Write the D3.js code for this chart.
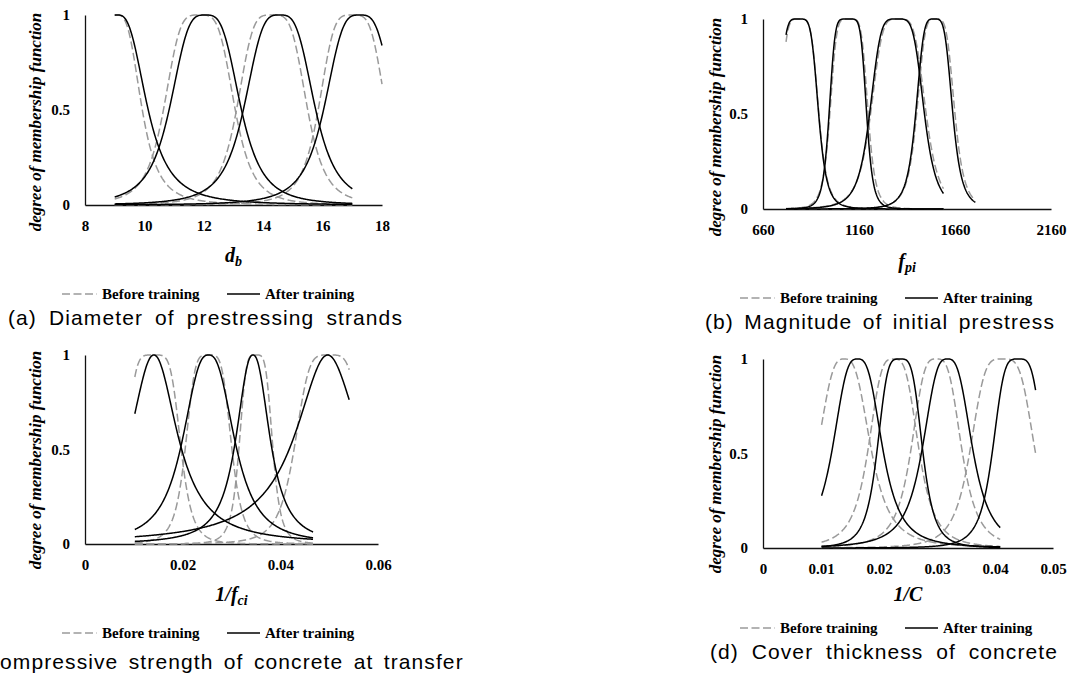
<!DOCTYPE html>
<html>
<head>
<meta charset="utf-8">
<script src="https://cdn.jsdelivr.net/npm/d3@7"></script>
<style>
	body { margin: 0; background: #fff; }
	svg { display: block; }
	.tick text { font-family: 'Liberation Serif', 'Times New Roman', serif; font-weight: bold; font-size: 15px; fill: #000; }
	.domain { stroke: #111; stroke-width: 1.3px; }
</style>
</head>
<body>
<div id="chart"></div>
<script>
// membership function parameters: [centre, half-width, slope]
const yTicks = [0, 0.5, 1];
const yTickLabels = ['0', '0.5', '1'];

// (a) diameter of prestressing strands
const aTicks = [8, 10, 12, 14, 16, 18];
const aTickLabels = ['8', '10', '12', '14', '16', '18'];
const aStart = 9;
const aEnd = [17, 17, 17, 18];
const aBefore = [[9.05, 0.88, 1.6], [11.85, 1.21, 2.0], [14.3, 1.2, 2.0], [17.0, 1.15, 2.0]];
const aAfter = [[9.1, 1.03, 1.4], [12.05, 1.22, 1.7], [14.55, 1.22, 1.7], [17.25, 1.22, 1.7]];

// (b) magnitude of initial prestress
const bTicks = [660, 1160, 1660, 2160];
const bTickLabels = ['660', '1160', '1660', '2160'];
const bStart = 780;
const bEnd = [1600, 1600, 1600, 1766];
const bBefore = [[848, 103, 2.4], [1108, 100, 2.7], [1365, 145, 2.2], [1560, 100, 2.1]];
const bAfter = [[845, 105, 2.5], [1102, 98, 3], [1358, 143, 2.3], [1552, 97, 2.1]];

// (c) compressive strength of concrete at transfer
const cTicks = [0, 0.02, 0.04, 0.06];
const cTickLabels = ['0', '0.02', '0.04', '0.06'];
const cStart = 0.0102;
const cEnd = [0.0467, 0.0467, 0.0467, 0.0541];
const cBefore = [[0.0140, 0.0057, 2.5], [0.0253, 0.0048, 2.2], [0.0350, 0.0035, 2.2], [0.0500, 0.0072, 2.2]];
const cAfter = [[0.0141, 0.0057, 1.05], [0.0253, 0.0058, 1.3], [0.0344, 0.0039, 1.17], [0.0497, 0.0079, 1.0]];

// (d) cover thickness of concrete
const dTicks = [0, 0.01, 0.02, 0.03, 0.04, 0.05];
const dTickLabels = ['0', '0.01', '0.02', '0.03', '0.04', '0.05'];
const dStart = 0.0101;
const dEnd = [0.0409, 0.0409, 0.0409, 0.047];
const dBefore = [[0.0140, 0.0048, 1.5], [0.0225, 0.0045, 1.7], [0.0299, 0.0045, 1.7], [0.0413, 0.0057, 2.0]];
const dAfter = [[0.0163, 0.0045, 1.5], [0.0236, 0.0040, 2.0], [0.0318, 0.0045, 1.5], [0.0440, 0.0045, 2.0]];

const serif = "'Liberation Serif', 'Times New Roman', serif";
const sans = "'Liberation Sans', Arial, sans-serif";

const svg = d3.select('#chart').append('svg').attr('width', 1072).attr('height', 675);

// generalised bell membership function
const gbell = (x, p) => 1 / (1 + Math.pow(Math.abs((x - p[0]) / p[1]), 2 * p[2]));

// capLen = width the caption is spread over; the (c) caption runs off the left edge,
// so it is placed by the start of "ompressive" instead
const panels = [
	{ ticks: aTicks, labels: aTickLabels, start: aStart, end: aEnd, before: aBefore, after: aAfter,
		x0: 85, x1: 382, top: 15, bottom: 205, yTitleX: 35, yTitleY: 122, xTitleY: 262, legendX: 62, legendY: 294,
		caption: '(a) Diameter of prestressing strands', capX: 8, capLen: 395, capY: 325,
		title: [['d', 20], ['b', 14]] },
	{ ticks: bTicks, labels: bTickLabels, start: bStart, end: bEnd, before: bBefore, after: bAfter,
		x0: 763, x1: 1051, top: 19, bottom: 209, yTitleX: 715, yTitleY: 127, xTitleY: 268, legendX: 740, legendY: 298,
		caption: '(b) Magnitude of initial prestress', capX: 705, capLen: 350, capY: 329,
		title: [['f', 20], ['pi', 14]] },
	{ ticks: cTicks, labels: cTickLabels, start: cStart, end: cEnd, before: cBefore, after: cAfter,
		x0: 85, x1: 378, top: 355, bottom: 544, yTitleX: 35, yTitleY: 460, xTitleY: 601, legendX: 62, legendY: 633,
		caption: '(c) Compressive strength of concrete at transfer', capX: 0, capLen: null, capY: 669,
		title: [['1/f', 20], ['ci', 14]] },
	{ ticks: dTicks, labels: dTickLabels, start: dStart, end: dEnd, before: dBefore, after: dAfter,
		x0: 763, x1: 1053, top: 359, bottom: 548, yTitleX: 715, yTitleY: 464, xTitleY: 601, legendX: 740, legendY: 628,
		caption: '(d) Cover thickness of concrete', capX: 710, capLen: 348, capY: 659,
		title: [['1/C', 20]] }
];

let wordGap = 6;

panels.forEach((p) => {
	const x = d3.scaleLinear().domain(d3.extent(p.ticks)).range([p.x0, p.x1]);
	const y = d3.scaleLinear().domain([0, 1]).range([p.bottom, p.top]);
	const g = svg.append('g');

	// axes, excel style: no tick marks
	g.append('g')
		.attr('transform', 'translate(0,' + p.bottom + ')')
		.call(d3.axisBottom(x).tickValues(p.ticks).tickSize(0).tickSizeOuter(0).tickPadding(15)
			.tickFormat((d, i) => p.labels[i]));
	g.append('g')
		.attr('transform', 'translate(' + p.x0 + ',0)')
		.call(d3.axisLeft(y).tickValues(yTicks).tickSize(0).tickSizeOuter(0).tickPadding(15)
			.tickFormat((d, i) => yTickLabels[i]));

	const line = d3.line().x((d) => x(d[0])).y((d) => y(d[1]));
	const curve = (par, i) => {
		const lo = p.start, hi = p.end[i];
		const xs = d3.range(0, 301).map((k) => lo + (hi - lo) * k / 300);
		return xs.map((v) => [v, gbell(v, par)]);
	};

	// before training (dashed), then after training (solid)
	g.selectAll('.before').data(p.before).enter().append('path')
		.attr('class', 'before')
		.attr('d', (d, i) => line(curve(d, i)))
		.attr('fill', 'none')
		.attr('stroke', '#9a9a9a')
		.attr('stroke-width', 1.5)
		.attr('stroke-dasharray', '8,3.5');
	g.selectAll('.after').data(p.after).enter().append('path')
		.attr('class', 'after')
		.attr('d', (d, i) => line(curve(d, i)))
		.attr('fill', 'none')
		.attr('stroke', '#000')
		.attr('stroke-width', 1.5);

	// y title
	g.append('text')
		.attr('transform', 'translate(' + p.yTitleX + ',' + p.yTitleY + ') rotate(-90)')
		.attr('text-anchor', 'middle')
		.attr('dy', '0.35em')
		.style('font-family', serif)
		.style('font-weight', 'bold')
		.style('font-style', 'italic')
		.style('font-size', '17px')
		.text('degree of membership function');

	// x title with subscript
	const xt = g.append('text')
		.attr('x', (p.x0 + p.x1) / 2)
		.attr('y', p.xTitleY)
		.attr('text-anchor', 'middle')
		.style('font-family', serif)
		.style('font-weight', 'bold')
		.style('font-style', 'italic');
	p.title.forEach((t, i) => {
		xt.append('tspan')
			.attr('dy', i == 0 ? 0 : 4)
			.style('font-size', t[1] + 'px')
			.text(t[0]);
	});

	// legend
	const lg = g.append('g').attr('transform', 'translate(' + p.legendX + ',' + p.legendY + ')');
	lg.append('line').attr('x1', 0).attr('x2', 35).attr('stroke', '#9a9a9a').attr('stroke-width', 1.5)
		.attr('stroke-dasharray', '8,3.5');
	lg.append('text').attr('x', 40).attr('dy', '0.35em').text('Before training');
	lg.append('line').attr('x1', 165).attr('x2', 198).attr('stroke', '#000').attr('stroke-width', 1.5);
	lg.append('text').attr('x', 203).attr('dy', '0.35em').text('After training');
	lg.selectAll('text')
		.style('font-family', serif)
		.style('font-weight', 'bold')
		.style('font-size', '15px');

	// caption: wide word gaps as in the original layout
	const cap = g.append('text')
		.attr('x', p.capX)
		.attr('y', p.capY)
		.style('font-family', sans)
		.style('font-size', '21px')
		.style('letter-spacing', '1.1px')
		.text(p.caption);
	if (p.capLen) {
		const natural = cap.node().getComputedTextLength();
		const gaps = p.caption.split(' ').length - 1;
		wordGap = Math.max(0, (p.capLen - natural) / gaps);
		cap.style('word-spacing', wordGap + 'px');
	} else {
		cap.style('word-spacing', wordGap + 'px');
		const o = cap.node().getStartPositionOfChar(5).x;
		cap.attr('x', p.capX - (o - p.capX));
	}
});
</script>
</body>
</html>
